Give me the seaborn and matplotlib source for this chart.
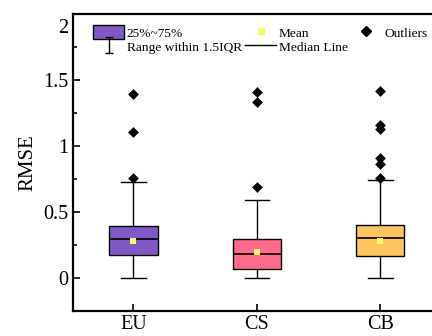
import numpy as np
import pandas as pd
import matplotlib.pyplot as plt
import matplotlib.transforms as mtransforms
from matplotlib.patches import Patch
from matplotlib.lines import Line2D
from matplotlib.path import Path
import seaborn as sns

# data
groups = ['EU', 'CS', 'CB']
whisker_low = [0.0, 0.0, 0.0]
q1 = [0.176, 0.07, 0.169]
median = [0.295, 0.18, 0.305]
q3 = [0.396, 0.295, 0.40]
whisker_high = [0.724, 0.59, 0.742]
means = [0.28, 0.20, 0.277]
outliers = {
    'EU': [0.757, 1.108, 1.396],
    'CS': [0.69, 1.336, 1.41],
    'CB': [0.757, 0.866, 0.91, 1.13, 1.16, 1.42],
}
colors = ['#8159C7', '#FF6B8C', '#FFC55E']
mean_color = '#F7F76A'

plt.rcParams['font.family'] = ['Liberation Serif', 'DejaVu Serif']

# five number summary -> box data (percentiles reproduce q1/median/q3)
rows = []
for i, g in enumerate(groups):
    for v in [whisker_low[i], q1[i], median[i], q3[i], whisker_high[i]]:
        rows.append({'group': g, 'RMSE': v})
df_box = pd.DataFrame(rows)
df_out = pd.DataFrame([{'group': g, 'RMSE': v} for g in groups for v in outliers[g]])
df_mean = pd.DataFrame({'group': groups, 'RMSE': means})

fig = plt.figure(figsize=(4.32, 3.36), dpi=100)
ax = fig.add_axes([73 / 432, 25 / 336, 369 / 432, 297 / 336])

sns.boxplot(data=df_box, x='group', y='RMSE', hue='group', palette=colors,
            order=groups, hue_order=groups, whis=(0, 100), width=0.39,
            saturation=1, showfliers=False, legend=False, ax=ax,
            boxprops=dict(edgecolor='black', linewidth=1.0),
            whiskerprops=dict(color='black', linewidth=1.0),
            capprops=dict(color='black', linewidth=1.0),
            medianprops=dict(color='black', linewidth=1.2),
            capwidths=0.2)
sns.stripplot(data=df_out, x='group', y='RMSE', order=groups, jitter=False,
              marker='D', size=5.5, color='black', ax=ax, zorder=5)
sns.stripplot(data=df_mean, x='group', y='RMSE', order=groups, jitter=False,
              marker='s', size=5, color=mean_color, linewidth=0, ax=ax, zorder=6)

ax.set_xlim(-0.49, 2.5)
ax.set_ylim(-0.25, 2.0)
ax.set_xlabel('')
ax.set_ylabel('RMSE', fontsize=15)
ax.set_yticks([0, 0.5, 1, 1.5, 2])
ax.set_yticklabels(['0', '0.5', '1', '1.5', '2'])
ax.set_yticks([0.25, 0.75, 1.25, 1.75], minor=True)
ax.tick_params(axis='both', which='major', direction='in', length=5, width=1.2,
               labelsize=14.5)
ax.tick_params(axis='y', which='minor', direction='in', length=3, width=1.2)
ax.tick_params(axis='x', which='major', pad=3)
for s in ax.spines.values():
    s.set_linewidth(1.6)
# top label sits lower, like the original
lbl = ax.get_yticklabels()[-1]
lbl.set_transform(lbl.get_transform() + mtransforms.ScaledTranslation(0, -12 / 100, fig.dpi_scale_trans))

# legend
ibar = Path([(-0.5, 1), (0.5, 1), (0, 1), (0, -1), (-0.5, -1), (0.5, -1)],
            [Path.MOVETO, Path.LINETO, Path.MOVETO, Path.LINETO, Path.MOVETO, Path.LINETO])
handles = [
    Patch(facecolor=colors[0], edgecolor='black', linewidth=1.0, label='25%~75%'),
    Line2D([], [], marker=ibar, markersize=12, color='black', linestyle='none',
           markeredgewidth=1.0, label='Range within 1.5IQR'),
    Line2D([], [], marker='s', markersize=5, color=mean_color, linestyle='none',
           label='Mean'),
    Line2D([], [], color='black', linewidth=1.0, label='Median Line'),
    Line2D([], [], marker='D', markersize=5.5, color='black', linestyle='none',
           label='Outliers'),
]
ax.legend(handles=handles, ncol=3, loc='upper left', bbox_to_anchor=(0.03, 0.995),
          frameon=False, fontsize=9.6, handlelength=2.3, handleheight=1.3,
          handletextpad=0.2, columnspacing=0.25, labelspacing=0.0, borderpad=0.2)

fig.savefig('out.png', dpi=100)
